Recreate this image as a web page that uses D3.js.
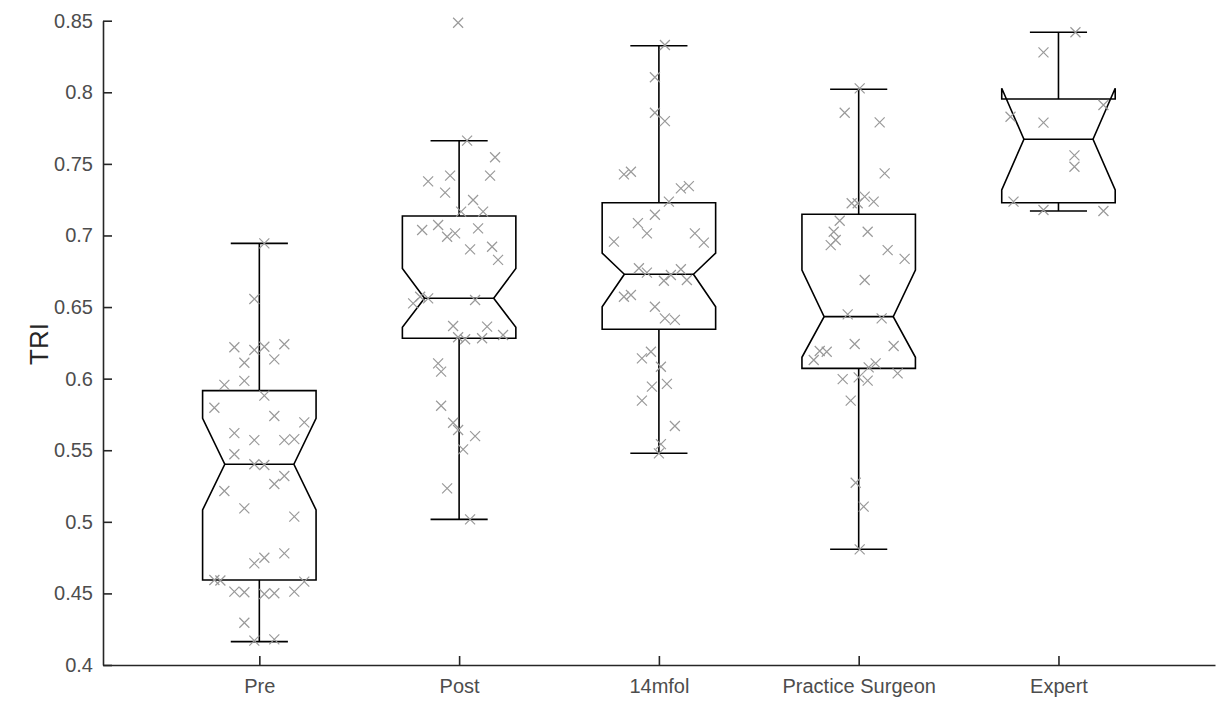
<!DOCTYPE html>
<html>
<head>
<meta charset="utf-8">
<script src="https://cdn.jsdelivr.net/npm/d3@7"></script>
<style>
  body { margin: 0; background: #fff; }
  text { font-family: "Liberation Sans", Arial, sans-serif; }
</style>
</head>
<body>
<div id="chart"></div>
<script>
// Data
var categories = ["Pre", "Post", "14mfol", "Practice Surgeon", "Expert"];
var whiskerHi = [0.6945, 0.7662, 0.8325, 0.8021, 0.8419];
var q3 = [0.5916, 0.7136, 0.7229, 0.7148, 0.7953];
var notchHi = [0.5723, 0.6770, 0.6877, 0.6758, 0.8028];
var median = [0.5402, 0.6561, 0.6729, 0.6433, 0.7672];
var notchLo = [0.5083, 0.6359, 0.6502, 0.6149, 0.7318];
var q1 = [0.4594, 0.6282, 0.6345, 0.6072, 0.7229];
var whiskerLo = [0.4163, 0.5017, 0.5479, 0.4808, 0.7171];
var yTicks = [0.4, 0.45, 0.5, 0.55, 0.6, 0.65, 0.7, 0.75, 0.8, 0.85];

// scatter points: [jitter offset, value]
var prePoints = [
  [0.025, 0.6945], [-0.025, 0.6556], [-0.125, 0.6219], [-0.025, 0.6200], [0.025, 0.6223],
  [0.125, 0.6240], [-0.075, 0.6111], [0.075, 0.6135], [-0.075, 0.5984], [-0.175, 0.5956],
  [0.025, 0.5881], [-0.225, 0.5797], [0.075, 0.5739], [0.225, 0.5695], [-0.125, 0.5620],
  [-0.025, 0.5571], [0.125, 0.5571], [0.175, 0.5578], [-0.125, 0.5472], [-0.025, 0.5402],
  [0.025, 0.5397], [0.125, 0.5320], [0.075, 0.5264], [-0.175, 0.5215], [-0.075, 0.5094],
  [0.175, 0.5036], [0.125, 0.4780], [0.025, 0.4749], [-0.025, 0.4710], [-0.225, 0.4594],
  [-0.195, 0.4590], [0.225, 0.4582], [-0.125, 0.4512], [-0.075, 0.4508], [0.025, 0.4496],
  [0.075, 0.4501], [0.175, 0.4512], [-0.075, 0.4295], [-0.025, 0.4170], [0.075, 0.4179]
];
var postPoints = [
  [-0.005, 0.8486], [0.04, 0.7662], [0.18, 0.7546], [-0.155, 0.7378], [-0.045, 0.7418],
  [0.155, 0.7418], [-0.07, 0.7299], [0.07, 0.7248], [0.01, 0.7166], [0.12, 0.7166],
  [-0.185, 0.7038], [-0.105, 0.7073], [-0.06, 0.6991], [-0.02, 0.7015], [0.095, 0.7050],
  [0.055, 0.6903], [0.165, 0.6921], [0.195, 0.6830], [-0.23, 0.6526], [-0.195, 0.6572],
  [-0.155, 0.6561], [0.08, 0.6549], [-0.03, 0.6368], [0.14, 0.6363], [-0.005, 0.6289],
  [0.03, 0.6275], [0.115, 0.6282], [0.22, 0.6305], [-0.105, 0.6107], [-0.09, 0.6049],
  [-0.09, 0.5811], [-0.03, 0.5692], [-0.005, 0.5641], [0.08, 0.5599], [0.02, 0.5506],
  [-0.06, 0.5234], [0.055, 0.5017]
];
var fmolPoints = [
  [0.03, 0.8330], [-0.02, 0.8105], [-0.02, 0.7857], [0.03, 0.7799], [-0.175, 0.7427],
  [-0.14, 0.7445], [0.11, 0.7329], [0.15, 0.7345], [0.05, 0.7236], [-0.02, 0.7145],
  [-0.105, 0.7086], [-0.06, 0.7015], [0.18, 0.7015], [-0.225, 0.6957], [0.225, 0.6950],
  [-0.10, 0.6771], [-0.06, 0.6740], [0.06, 0.6724], [0.11, 0.6764], [0.025, 0.6684],
  [0.14, 0.6689], [-0.175, 0.6572], [-0.14, 0.6584], [-0.02, 0.6502], [0.03, 0.6421],
  [0.08, 0.6410], [-0.04, 0.6188], [-0.085, 0.6142], [0.01, 0.6083], [-0.035, 0.5944],
  [0.04, 0.5963], [-0.085, 0.5846], [0.08, 0.5669], [0.01, 0.5543], [0.0, 0.5478]
];
var surgeonPoints = [
  [0.005, 0.8027], [-0.07, 0.7857], [0.105, 0.7790], [0.13, 0.7434], [-0.035, 0.7225],
  [-0.005, 0.7225], [0.03, 0.7271], [0.075, 0.7236], [-0.095, 0.7103], [-0.125, 0.7026],
  [-0.115, 0.6968], [-0.14, 0.6933], [0.045, 0.7026], [0.145, 0.6898], [0.23, 0.6836],
  [0.03, 0.6689], [-0.055, 0.6449], [0.115, 0.6421], [-0.02, 0.6242], [0.175, 0.6228],
  [-0.195, 0.6193], [-0.16, 0.6188], [-0.225, 0.6130], [0.085, 0.6107], [0.05, 0.6079],
  [0.195, 0.6037], [-0.08, 0.5997], [0.0, 0.6009], [0.045, 0.5986], [-0.04, 0.5846],
  [-0.015, 0.5273], [0.025, 0.5106], [0.005, 0.4808]
];
var expertPoints = [
  [0.085, 0.8419], [-0.075, 0.8279], [-0.24, 0.7829], [-0.075, 0.7788], [0.225, 0.7911],
  [0.08, 0.7559], [0.08, 0.7480], [-0.225, 0.7236], [-0.075, 0.7178], [0.225, 0.7171]
];
var groupPoints = [prePoints, postPoints, fmolPoints, surgeonPoints, expertPoints];

// Set up chart
var svgWidth = 1216;
var svgHeight = 704;

var svg = d3.select("#chart")
  .append("svg")
  .attr("width", svgWidth)
  .attr("height", svgHeight);

var xScale = d3.scaleLinear().domain([0.2175, 5.7835]).range([103, 1215]);
var yScale = d3.scaleLinear().domain([0.4, 0.85]).range([665, 20.7]);

var boxHalf = 0.284;
var notchHalf = 0.173;
var capHalf = 0.143;

// boxes
var boxes = svg.append("g");
categories.forEach(function (cat, i) {
  var c = i + 1;
  var pts = [
    [c - boxHalf, q1[i]], [c - boxHalf, notchLo[i]], [c - notchHalf, median[i]],
    [c - boxHalf, notchHi[i]], [c - boxHalf, q3[i]], [c + boxHalf, q3[i]],
    [c + boxHalf, notchHi[i]], [c + notchHalf, median[i]], [c + boxHalf, notchLo[i]],
    [c + boxHalf, q1[i]]
  ];
  var line = d3.line()
    .x(function (d) { return xScale(d[0]); })
    .y(function (d) { return yScale(d[1]); });
  boxes.append("path")
    .attr("d", line(pts) + "Z")
    .attr("fill", "none")
    .attr("stroke", "#000")
    .attr("stroke-width", 1.6);
  // median
  boxes.append("line")
    .attr("x1", xScale(c - notchHalf)).attr("x2", xScale(c + notchHalf))
    .attr("y1", yScale(median[i])).attr("y2", yScale(median[i]))
    .attr("stroke", "#000").attr("stroke-width", 1.6);
  // whiskers
  [[q3[i], whiskerHi[i]], [q1[i], whiskerLo[i]]].forEach(function (w) {
    boxes.append("line")
      .attr("x1", xScale(c)).attr("x2", xScale(c))
      .attr("y1", yScale(w[0])).attr("y2", yScale(w[1]))
      .attr("stroke", "#000").attr("stroke-width", 1.6);
    boxes.append("line")
      .attr("x1", xScale(c - capHalf)).attr("x2", xScale(c + capHalf))
      .attr("y1", yScale(w[1])).attr("y2", yScale(w[1]))
      .attr("stroke", "#000").attr("stroke-width", 1.6);
  });
});

// scatter crosses
var m = 5;
var marks = svg.append("g");
groupPoints.forEach(function (pts, i) {
  marks.selectAll(null)
    .data(pts)
    .enter()
    .append("path")
    .attr("d", function (d) {
      var px = xScale(i + 1 + d[0]);
      var py = yScale(d[1]);
      return "M" + (px - m) + "," + (py - m) + "L" + (px + m) + "," + (py + m) +
        "M" + (px - m) + "," + (py + m) + "L" + (px + m) + "," + (py - m);
    })
    .attr("stroke", "#9a9a9a")
    .attr("stroke-width", 1.2)
    .attr("fill", "none");
});

// axes
var leftAxis = d3.axisLeft(yScale)
  .tickValues(yTicks)
  .tickFormat(function (d) { return String(d); })
  .tickSizeInner(-9)
  .tickSizeOuter(0)
  .tickPadding(10);

var bottomAxis = d3.axisBottom(xScale)
  .tickValues([1, 2, 3, 4, 5])
  .tickFormat(function (d) { return categories[d - 1]; })
  .tickSizeInner(-9)
  .tickSizeOuter(0)
  .tickPadding(14);

var yAxisG = svg.append("g")
  .attr("transform", "translate(103,0)")
  .call(leftAxis);

var xAxisG = svg.append("g")
  .attr("transform", "translate(0,665)")
  .call(bottomAxis);

[yAxisG, xAxisG].forEach(function (g) {
  g.select(".domain").attr("stroke", "#262626").attr("stroke-width", 1.6);
  g.selectAll(".tick line").attr("stroke", "#262626").attr("stroke-width", 1.6);
  g.selectAll(".tick text")
    .attr("fill", "#4d4d4d")
    .style("font-size", "20px")
    .style("font-family", "'Liberation Sans', Arial, sans-serif");
});

// y-axis label
svg.append("text")
  .attr("transform", "translate(48,344) rotate(-90)")
  .attr("text-anchor", "middle")
  .attr("fill", "#262626")
  .style("font-size", "26px")
  .text("TRI");
</script>
</body>
</html>
